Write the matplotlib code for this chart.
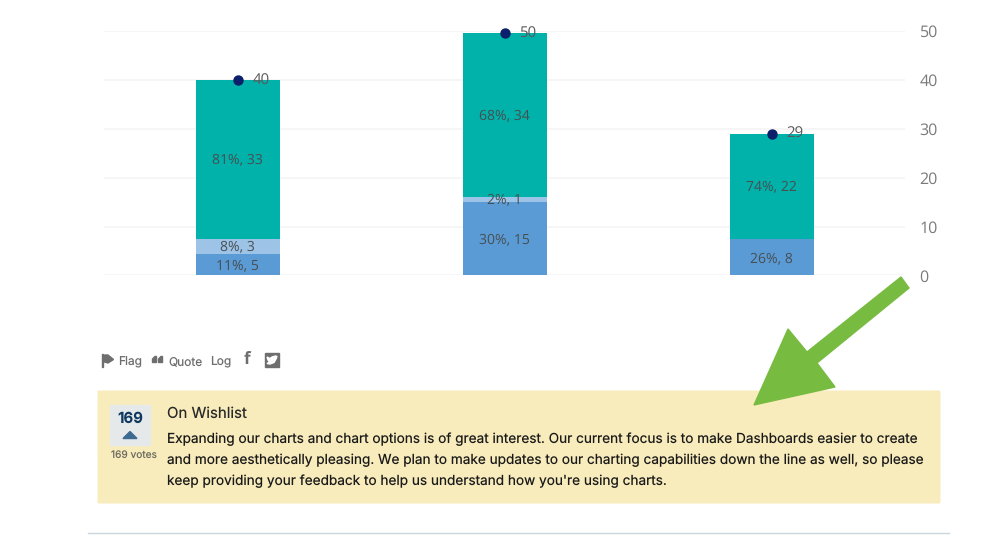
import matplotlib
matplotlib.use("Agg")
import matplotlib.pyplot as plt
from matplotlib.patches import Polygon, Rectangle, FancyBboxPatch

plt.rcParams["text.hinting"] = "none"
plt.rcParams["text.hinting_factor"] = 1

W, H = 990, 556
categories = ["A", "B", "C"]
blue = [4.4, 15.0, 7.5]
light = [3.1, 1.1, 0.0]
teal = [32.4, 33.4, 21.5]
totals = [40, 50, 29]
total_pos = [39.9, 49.5, 29.0]
blue_labels = ["11%, 5", "30%, 15", "26%, 8"]
light_labels = ["8%, 3", "2%, 1", ""]
teal_labels = ["81%, 33", "68%, 34", "74%, 22"]
yticks = [0, 10, 20, 30, 40, 50]

fig = plt.figure(figsize=(W / 100, H / 100), dpi=100, facecolor="white")

# pixel overlay
ov = fig.add_axes([0, 0, 1, 1], zorder=3)
ov.set_xlim(0, W); ov.set_ylim(H, 0); ov.axis("off"); ov.patch.set_alpha(0)

# chart
y0, y50 = 275.5, 31.0
x0, x1 = 104, 905
ax = fig.add_axes([x0 / W, 1 - y0 / H, (x1 - x0) / W, (y0 - y50) / H], zorder=2)
ax.patch.set_alpha(0)
ax.set_xlim(-0.5, 2.5); ax.set_ylim(0, 50)
for s in ax.spines.values():
    s.set_visible(False)
ax.set_xticks([])
ax.yaxis.tick_right()
ax.set_yticks(yticks)
ax.tick_params(axis="y", length=0, pad=10.5, labelsize=11.5, labelcolor="#7a7a7a")
for t in ax.get_yticklabels():
    t.set_family("Open Sans")
ax.grid(axis="y", color="#f5f5f5", lw=1.2)
ax.set_axisbelow(True)

xs = range(len(categories))
w = 84 / 267
ax.bar(xs, blue, w, color="#5b9bd5", lw=0)
ax.bar(xs, light, w, bottom=blue, color="#9dc3e6", lw=0)
bot2 = [a + b for a, b in zip(blue, light)]
ax.bar(xs, teal, w, bottom=bot2, color="#00b2a9", lw=0)
lab = dict(ha="center", va="center", fontsize=10.2, color="#474f52", family="Open Sans")
for i in xs:
    ax.text(i, blue[i] / 2 - 0.2, blue_labels[i], **lab)
    if light_labels[i]:
        ax.text(i, blue[i] + light[i] / 2 - 0.1, light_labels[i], **lab)
    ax.text(i, bot2[i] + teal[i] / 2, teal_labels[i], **lab)
    ax.text(i + 0.056, total_pos[i] - 0.1, str(totals[i]), ha="left", va="center",
            fontsize=10.8, color="#595959", family="Open Sans", clip_on=False)
ax.plot(xs, total_pos, ls="none", marker="o", ms=6.5, color="#0b1f6b", clip_on=False)

# action row
gray = "#6e6e6e"
row = dict(va="baseline", ha="left", fontsize=8.6, color=gray, family="Inter")
ov.add_patch(Rectangle((102, 353.5), 1, 13, color=gray))
ov.add_patch(Polygon([(104.5, 355), (108, 355), (113.5, 359.5), (108, 363), (104.5, 362)], color=gray))
ov.text(118, 365, "Flag", **row)
ov.add_patch(Polygon([(152.5, 362.5), (152.5, 359), (155, 356.5), (156.5, 356.5), (156.5, 362.5)], color=gray))
ov.add_patch(Polygon([(158.5, 362.5), (158.5, 359), (161, 356.5), (162.5, 356.5), (162.5, 362.5)], color=gray))
ov.text(168, 365, "Quote", **row)
ov.text(210.5, 365, "Log", **row)
ov.text(247, 359.5, "f", fontsize=12, fontweight="bold", color=gray, ha="center", va="center", family="Open Sans")
ov.add_patch(Rectangle((265, 353), 14, 14, color=gray))
ov.add_patch(Polygon([(267, 357), (270, 358.5), (272, 357), (275.5, 356), (277, 356.5), (276, 359),
                      (274, 362.5), (270, 364), (267, 363.5), (269.5, 362), (268, 360)], color="white"))

# wishlist box
ov.add_patch(FancyBboxPatch((97.5, 390.5), 843, 113, boxstyle="round,pad=0,rounding_size=1.5",
                            fc="#f9ecbc", ec="none", lw=0))
ov.add_patch(Rectangle((110, 405), 40, 40, color="#e6e9ea"))
ov.text(130, 418.5, "169", fontsize=10.8, fontweight="bold", color="#0f3860",
        ha="center", va="center", family="Inter")
ov.add_patch(Polygon([(123, 438.5), (130, 431.5), (137, 438.5)], color="#3d6a90"))
ov.text(133.5, 455.5, "169 votes", fontsize=7.3, color="#6b6b60", ha="center", va="center", family="Inter")
ov.text(167, 417.5, "On Wishlist", fontsize=10.8, color="#2a2a2a", ha="left", va="baseline", family="Inter")
body = ["Expanding our charts and chart options is of great interest. Our current focus is to make Dashboards easier to create",
        "and more aesthetically pleasing. We plan to make updates to our charting capabilities down the line as well, so please",
        "keep providing your feedback to help us understand how you're using charts."]
for yy, line in zip([443.5, 464.5, 485.5], body):
    ov.text(167, yy, line, fontsize=9.8, color="#1a1a1a", ha="left", va="baseline", family="Inter")

# divider
ov.plot([88, 949], [532.5, 532.5], color="#c9d6dc", lw=1)

# green arrow
ov.add_patch(Polygon([(901, 277), (909, 288), (817, 363), (835, 387), (754, 405),
                     (788, 329), (807, 352)], color="#78bb41", zorder=5))

fig.savefig("out.png", dpi=100)
